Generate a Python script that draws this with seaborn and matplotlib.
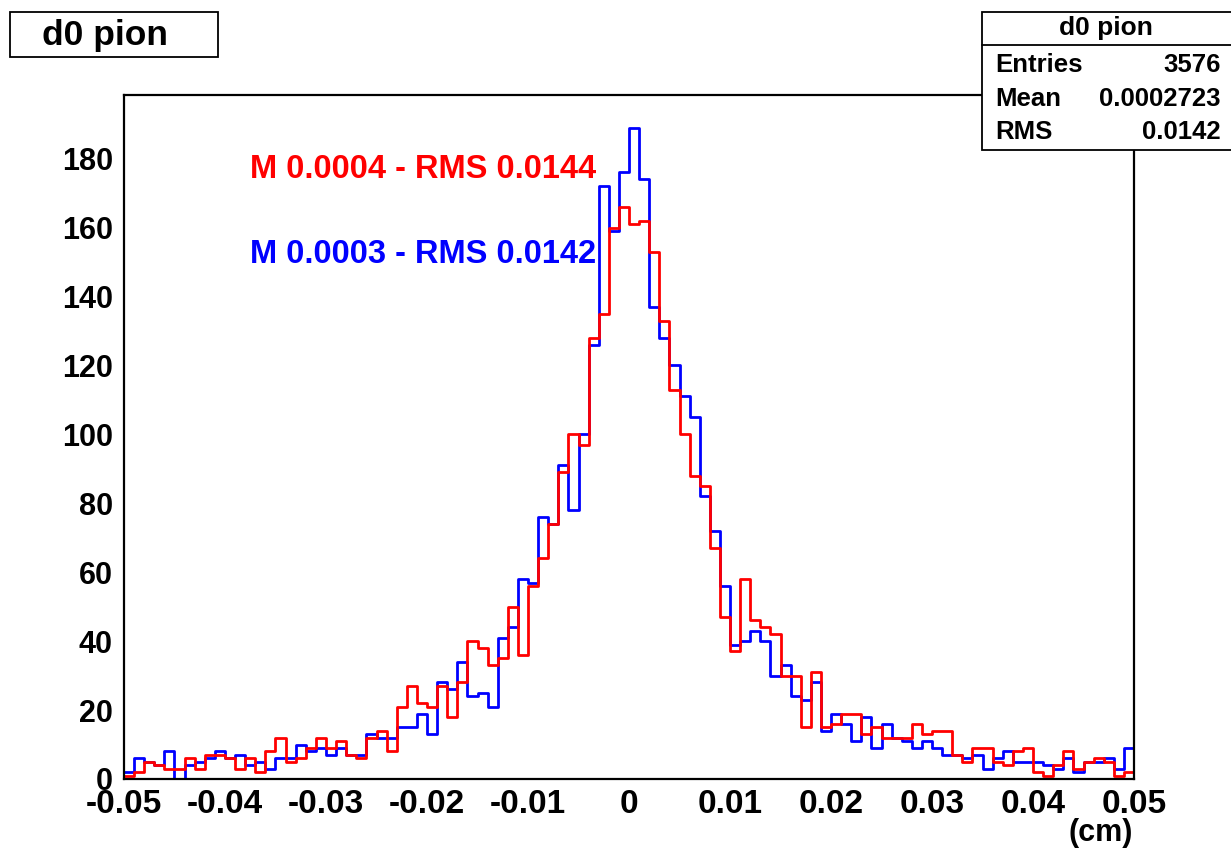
import matplotlib
matplotlib.use("Agg")
import matplotlib.pyplot as plt
from matplotlib.patches import Rectangle
from matplotlib.lines import Line2D
from matplotlib.ticker import MultipleLocator
import numpy as np
import pandas as pd
import seaborn as sns

# histogram binning (ROOT TH1: 100 bins over [-0.05, 0.05] cm)
X_MIN, X_MAX, N_BINS = -0.05, 0.05, 100

BLUE_COUNTS = [
    2, 6, 5, 4, 8, 0, 4, 5, 6, 8,
    6, 7, 4, 5, 3, 6, 6, 10, 8, 9,
    7, 9, 7, 7, 13, 12, 12, 15, 15, 19,
    13, 28, 26, 34, 24, 25, 21, 41, 44, 58,
    57, 76, 74, 91, 78, 100, 126, 172, 159, 176,
    189, 174, 137, 128, 120, 111, 105, 82, 72, 56,
    39, 40, 43, 40, 30, 33, 24, 23, 28, 14,
    19, 16, 11, 18, 9, 16, 12, 11, 9, 11,
    9, 7, 7, 6, 7, 3, 6, 8, 5, 5,
    5, 4, 3, 6, 2, 5, 5, 6, 3, 9,
]
RED_COUNTS = [
    1, 2, 5, 4, 3, 3, 6, 3, 7, 7,
    6, 3, 6, 2, 8, 12, 5, 6, 9, 12,
    9, 11, 7, 6, 12, 14, 8, 21, 27, 22,
    21, 27, 18, 28, 40, 38, 33, 35, 50, 36,
    56, 64, 74, 89, 100, 97, 128, 135, 160, 166,
    161, 162, 153, 133, 113, 100, 88, 85, 67, 47,
    37, 58, 46, 44, 42, 30, 30, 15, 31, 15,
    16, 19, 19, 13, 15, 12, 12, 12, 16, 13,
    14, 14, 7, 5, 9, 9, 5, 4, 8, 9,
    2, 1, 4, 8, 3, 5, 6, 5, 1, 2,
]

X_TICKS = [-0.05, -0.04, -0.03, -0.02, -0.01, 0.0, 0.01, 0.02, 0.03, 0.04, 0.05]
X_TICK_LABELS = ["-0.05", "-0.04", "-0.03", "-0.02", "-0.01", "0",
                 "0.01", "0.02", "0.03", "0.04", "0.05"]
Y_TICKS = [0, 20, 40, 60, 80, 100, 120, 140, 160, 180]
Y_MAX = 198.45  # ROOT default: 1.05 * max bin

TITLE = "d0 pion"
X_UNIT = "(cm)"
RED_LABEL = "M 0.0004 - RMS 0.0144"
BLUE_LABEL = "M 0.0003 - RMS 0.0142"
STATS_ROWS = [("Entries", "3576"), ("Mean", "0.0002723"), ("RMS", "0.0142")]

W, H = 1231, 850

sns.set_style("white")
plt.rcParams["font.family"] = ["Liberation Sans", "DejaVu Sans"]
plt.rcParams["font.weight"] = "bold"
plt.rcParams["axes.unicode_minus"] = False
plt.rcParams["text.color"] = "black"
plt.rcParams["xtick.color"] = "black"
plt.rcParams["ytick.color"] = "black"

edges = np.linspace(X_MIN, X_MAX, N_BINS + 1)
centers = (edges[:-1] + edges[1:]) / 2
df = pd.DataFrame({
    "x": np.concatenate([centers, centers]),
    "count": BLUE_COUNTS + RED_COUNTS,
    "sample": ["blue"] * N_BINS + ["red"] * N_BINS,
})

fig = plt.figure(figsize=(W / 100, H / 100), dpi=100)
ax = fig.add_axes([124 / W, 1 - 779 / H, 1010 / W, 684 / H])

# blue first, red drawn on top
for name, col in [("blue", "#0000ff"), ("red", "#ff0000")]:
    sns.histplot(
        data=df[df["sample"] == name], x="x", weights="count",
        bins=N_BINS, binrange=(X_MIN, X_MAX), element="step", fill=False,
        color=col, linewidth=2, ax=ax,
    )

ax.set_xlim(X_MIN, X_MAX)
ax.set_ylim(0, Y_MAX)
ax.set_xticks(X_TICKS)
ax.set_xticklabels(X_TICK_LABELS)
ax.set_yticks(Y_TICKS)
ax.set_yticklabels([str(v) for v in Y_TICKS])
ax.xaxis.set_minor_locator(MultipleLocator(0.002))
ax.yaxis.set_minor_locator(MultipleLocator(5))
ax.set_xlabel("")
ax.set_ylabel("")

ax.tick_params(axis="x", which="major", direction="in", length=14.5, width=1.3,
               labelsize=24, pad=7, colors="black")
ax.tick_params(axis="x", which="minor", direction="in", length=7.2, width=1.3,
               colors="black")
ax.tick_params(axis="y", which="major", direction="in", length=21.5, width=1.3,
               labelsize=22, pad=8, colors="black")
ax.tick_params(axis="y", which="minor", direction="in", length=10.8, width=1.3,
               colors="black")
for sp in ax.spines.values():
    sp.set_visible(True)
    sp.set_color("black")
    sp.set_linewidth(1.6)

ax.text(-0.0375, 176.8, RED_LABEL, color="#ff0000", fontsize=23.5,
        fontweight="bold", ha="left", va="center")
ax.text(-0.0375, 152.2, BLUE_LABEL, color="#0000ff", fontsize=23.5,
        fontweight="bold", ha="left", va="center")

fig.text(1133 / W, 1 - 833 / H, X_UNIT, fontsize=22, fontweight="bold",
         ha="right", va="center", color="black")

# title box, top left
fig.patches.append(Rectangle((10 / W, 1 - 57 / H), 208 / W, 45 / H,
                             transform=fig.transFigure, facecolor="white",
                             edgecolor="black", linewidth=1.3, zorder=5))
fig.text(105 / W, 1 - 35 / H, TITLE, fontsize=25.5, fontweight="bold",
         ha="center", va="center", zorder=6, color="black")

# stats box, top right
fig.patches.append(Rectangle((982 / W, 1 - 150 / H), 260 / W, 138 / H,
                             transform=fig.transFigure, facecolor="white",
                             edgecolor="black", linewidth=1.3, zorder=5))
fig.lines.append(Line2D([982 / W, 1], [1 - 45 / H, 1 - 45 / H],
                        transform=fig.transFigure, color="black",
                        linewidth=1.3, zorder=6))
fig.text(1106 / W, 1 - 28 / H, TITLE, fontsize=19, fontweight="bold",
         ha="center", va="center", zorder=6, color="black")
for i, (lab, val) in enumerate(STATS_ROWS):
    yy = 1 - (65 + 33.5 * i) / H
    fig.text(995 / W, yy, lab, fontsize=18.5, fontweight="bold",
             ha="left", va="center", zorder=6, color="black")
    fig.text(1221 / W, yy, val, fontsize=18.5, fontweight="bold",
             ha="right", va="center", zorder=6, color="black")

fig.savefig("out.png", dpi=100)
